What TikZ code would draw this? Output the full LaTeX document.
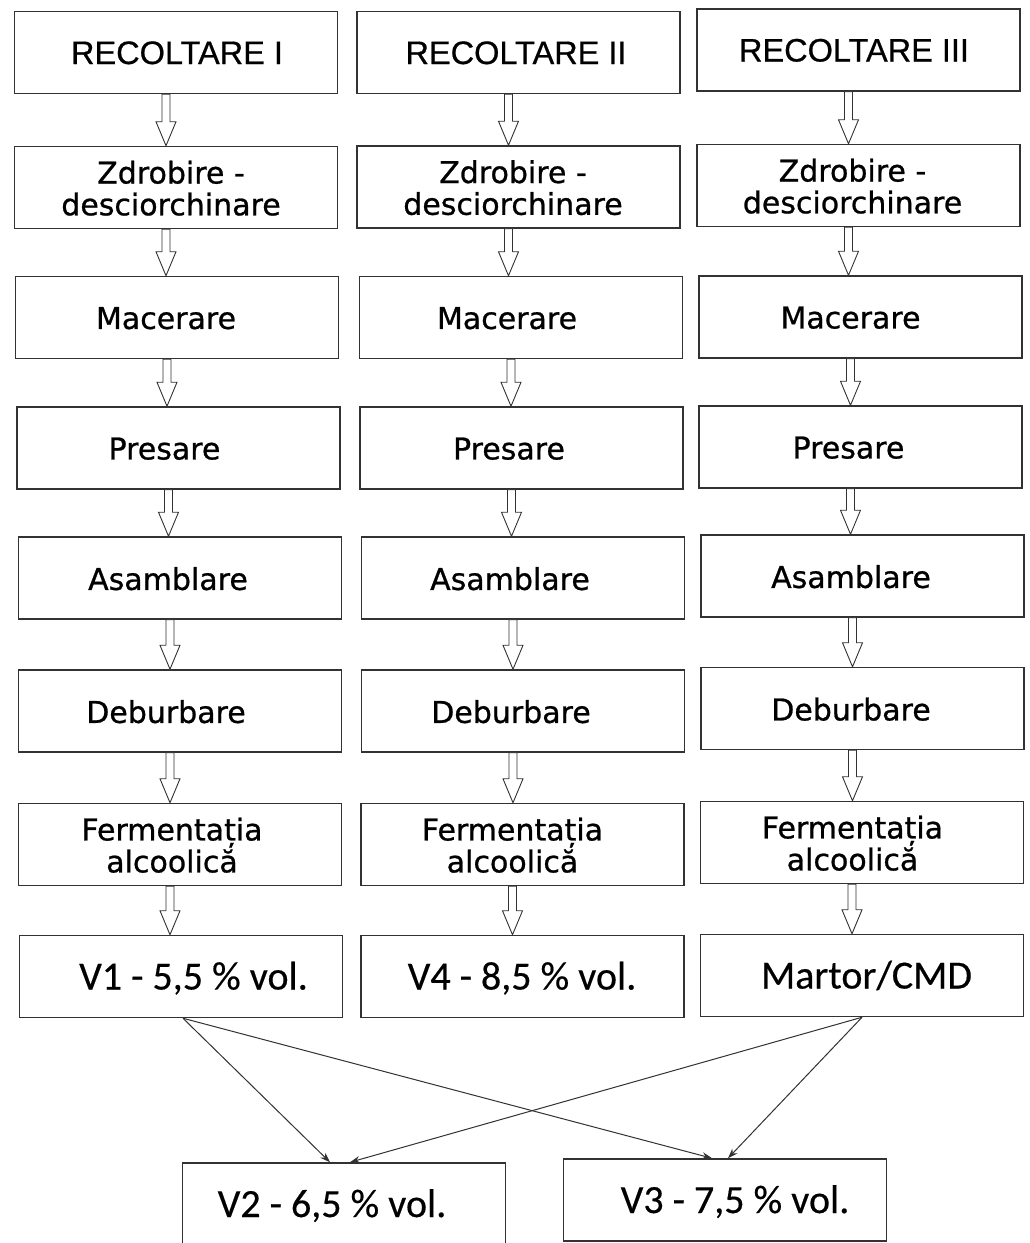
\documentclass[tikz,border=0pt]{standalone}
\usepackage{fontspec}
\usepackage{tikz}
\usetikzlibrary{calc}
\usetikzlibrary{arrows.meta}
\newfontfamily\recfont[FakeBold=0.6]{Liberation Sans}
\newfontfamily\stepfont[FakeBold=0.8]{DejaVu Sans}
\newfontfamily\resfont[FakeBold=0.4]{Carlito}
\definecolor{edgegray}{RGB}{50,50,50}
\tikzset{box/.style={rectangle, draw=edgegray, line width=1.5pt, minimum width=323pt, minimum height=82pt, inner sep=0pt, fill=white}}
\tikzset{hdr/.style={box, font=\recfont\fontsize{32.5}{32.5}\selectfont}}
\tikzset{stp/.style={box, font=\stepfont\fontsize{30}{30}\selectfont}}
\tikzset{res/.style={box, font=\resfont\fontsize{40}{40}\selectfont}}
\tikzset{mix/.style={draw=edgegray, line width=1pt, -{Stealth[length=10pt, width=7pt]}}}
\newcommand{\boxtext}[2]{\hspace*{#1pt}\raisebox{-5pt}[\height][\depth]{\begin{tabular}{@{}c@{}}#2\end{tabular}}}
\newcommand{\hollowdown}[2]{%
  \coordinate (s) at ([xshift=-10pt]#1.south);
  \coordinate (t) at (s |- #2.north);
  \draw[draw=edgegray, line width=0.9pt, fill=white]
    ($(s)+(-4,0)$) -- ($(t)+(-4,-24)$) -- ($(t)+(-10,-24)$) -- (t)
    -- ($(t)+(10,-24)$) -- ($(t)+(4,-24)$) -- ($(s)+(4,0)$) -- cycle;
}

\begin{document}
\begin{tikzpicture}[x=1pt,y=-1pt]
  \useasboundingbox (0,0) rectangle (1030,1243);
  \clip (0,0) rectangle (1030,1243);
  \fill[white] (0,0) rectangle (1030,1243);
  \foreach \lab/\x/\y/\dx/\txt in {
    r1/176/52.5/2/RECOLTARE I,
    r2/518.5/52.5/-5/RECOLTARE II,
    r3/858.5/50/-9/RECOLTARE III%
  } {
    \node[hdr] (\lab) at (\x, \y) {\boxtext{\dx}{\txt}};
  }
  \foreach \lab/\x/\y/\dx/\txt in {
    z1/176/187.5/-10/{Zdrobire -\\desciorchinare},
    z2/518.5/187/-11/{Zdrobire -\\desciorchinare},
    z3/858.5/185.5/-12/{Zdrobire -\\desciorchinare},
    m1/177/317.5/-22/Macerare,
    m2/521/317.5/-28/Macerare,
    m3/860.5/317/-20/Macerare,
    p1/178.5/448/-28/Presare,
    p2/521.5/448/-25/Presare,
    p3/860.5/447/-24/Presare,
    a1/180/578/-24/Asamblare,
    a2/523/578/-26/Asamblare,
    a3/862.5/576/-23/Asamblare,
    d1/180/711/-28/Deburbare,
    d2/523/711/-24/Deburbare,
    d3/862.5/708.5/-23/Deburbare,
    f1/180/844.5/-16/{Fermentația\\alcoolică},
    f2/522.5/844.5/-20/{Fermentația\\alcoolică},
    f3/862/842.5/-19/{Fermentația\\alcoolică}%
  } {
    \node[stp] (\lab) at (\x, \y) {\boxtext{\dx}{\txt}};
  }
  \foreach \lab/\x/\y/\dx/\txt in {
    v1/181/976.5/25/{V1 - 5,5 \% vol.},
    v4/522.5/976.5/-1/{V4 - 8,5 \% vol.},
    mc/862/975.5/9/{Martor/CMD},
    v2/344/1204/-24/{V2 - 6,5 \% vol.},
    v3/725/1200/20/{V3 - 7,5 \% vol.}%
  } {
    \node[res] (\lab) at (\x, \y) {\boxtext{\dx}{\txt}};
  }
  % block arrows down each column
  \foreach \c/\last in {1/v1, 2/v4, 3/mc} {
    \foreach \a/\b in {r/z, z/m, m/p, p/a, a/d, d/f} {
      \hollowdown{\a\c}{\b\c}
    }
    \hollowdown{f\c}{\last}
  }
  % mixing
  \draw[mix] ([xshift=2pt]v1.south) -- ([xshift=-14pt]v2.north);
  \draw[mix] ([xshift=2pt]v1.south) -- ([xshift=-13pt]v3.north);
  \draw[mix] (mc.south) -- ([xshift=6pt]v2.north);
  \draw[mix] (mc.south) -- ([xshift=3pt]v3.north);
\end{tikzpicture}
\end{document}
